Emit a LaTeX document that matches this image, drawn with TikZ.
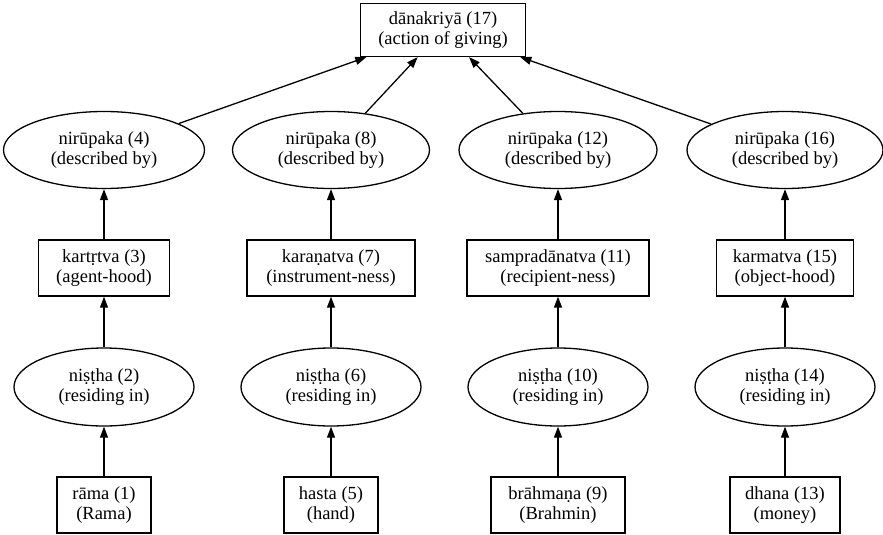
\documentclass[tikz,border=0pt]{standalone}
\usepackage{fontspec}
\setmainfont{Liberation Serif}
\usetikzlibrary{shapes.geometric,arrows.meta}
\tikzset{
  base/.style={draw, line width=1.3pt, align=center, inner sep=0pt,
    font=\fontsize{18.5}{20}\selectfont},
  bx/.style={base, rectangle},
  el/.style={base, ellipse},
  arr/.style={-{Triangle[length=11pt,width=8pt]}, line width=1.3pt}
}
\begin{document}
\begin{tikzpicture}[x=1pt,y=-1pt]
\useasboundingbox (0,0) rectangle (883,535);
% top
\node[bx, minimum width=165pt, minimum height=53pt] (n17) at (443,30) {dānakriyā (17)\\(action of giving)};
% ellipse row 1
\node[el, minimum width=201pt, minimum height=77pt] (n4)  at (104,150) {nirūpaka (4)\\(described by)};
\node[el, minimum width=197pt, minimum height=77pt] (n8)  at (331,150) {nirūpaka (8)\\(described by)};
\node[el, minimum width=198pt, minimum height=77pt] (n12) at (558,150) {nirūpaka (12)\\(described by)};
\node[el, minimum width=196pt, minimum height=77pt] (n16) at (785,150) {nirūpaka (16)\\(described by)};
% box row
\node[bx, minimum width=131pt, minimum height=56pt] (n3)  at (104,268) {kartṛtva (3)\\(agent-hood)};
\node[bx, minimum width=168pt, minimum height=56pt] (n7)  at (331,268) {karaṇatva (7)\\(instrument-ness)};
\node[bx, minimum width=182pt, minimum height=56pt] (n11) at (558,268) {sampradānatva (11)\\(recipient-ness)};
\node[bx, minimum width=137pt, minimum height=56pt] (n15) at (785,268) {karmatva (15)\\(object-hood)};
% ellipse row 2
\node[el, minimum width=180pt, minimum height=78pt] (n2)  at (104,387) {niṣṭha (2)\\(residing in)};
\node[el, minimum width=180pt, minimum height=78pt] (n6)  at (331,387) {niṣṭha (6)\\(residing in)};
\node[el, minimum width=180pt, minimum height=78pt] (n10) at (558,387) {niṣṭha (10)\\(residing in)};
\node[el, minimum width=180pt, minimum height=78pt] (n14) at (785,387) {niṣṭha (14)\\(residing in)};
% bottom
\node[bx, minimum width=94pt,  minimum height=56pt] (n1)  at (104,505) {rāma (1)\\(Rama)};
\node[bx, minimum width=94pt,  minimum height=56pt] (n5)  at (331,505) {hasta (5)\\(hand)};
\node[bx, minimum width=134pt, minimum height=56pt] (n9)  at (558,505) {brāhmaṇa (9)\\(Brahmin)};
\node[bx, minimum width=110pt, minimum height=56pt] (n13) at (785,505) {dhana (13)\\(money)};
% edges
\foreach \a/\b in {n1/n2,n2/n3,n3/n4,n4/n17,n5/n6,n6/n7,n7/n8,n8/n17,n9/n10,n10/n11,n11/n12,n12/n17,n13/n14,n14/n15,n15/n16,n16/n17}
  \draw[arr] (\a) -- (\b);
\end{tikzpicture}
\end{document}
